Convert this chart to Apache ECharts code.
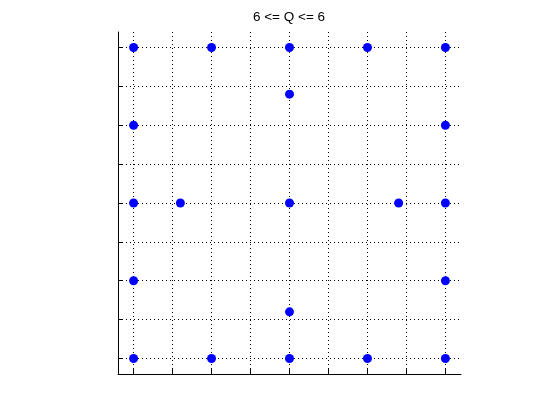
<!DOCTYPE html>
<html>
<head>
<meta charset="utf-8">
<script src="https://cdn.jsdelivr.net/npm/echarts@6/dist/echarts.min.js"></script>
<style>html,body{margin:0;padding:0;background:#fff;}#c{width:560px;height:420px;}</style>
</head>
<body>
<div id="c"></div>
<script>
var titleText = '6 <= Q <= 6';
var xValues = [-1, -0.5, 0, 0.5, 1, 0, -1, 1, -1, -0.7, 0, 0.7, 1, -1, 1, 0, -1, -0.5, 0, 0.5, 1];
var yValues = [1, 1, 1, 1, 1, 0.7, 0.5, 0.5, 0, 0, 0, 0, 0, -0.5, -0.5, -0.7, -1, -1, -1, -1, -1];
var tickValues = [-1, -0.75, -0.5, -0.25, 0, 0.25, 0.5, 0.75, 1];
var axisMin = -1.1, axisMax = 1.1;

var points = xValues.map(function (x, i) { return [x, yValues[i]]; });
var chart = echarts.init(document.getElementById('c'));
function axis() {
  return {
    type: 'value', min: axisMin, max: axisMax,
    axisLine: { show: true, onZero: false, lineStyle: { color: '#000', width: 1 } },
    axisTick: { show: true, inside: true, length: 5, customValues: tickValues, lineStyle: { color: '#000' } },
    axisLabel: { show: false, customValues: tickValues },
    splitLine: { show: true, lineStyle: { color: '#000', type: [1, 3], width: 1 } }
  };
}
chart.setOption({
  animation: false,
  backgroundColor: '#fff',
  graphic: [{
    type: 'text',
    style: { text: titleText, x: 289, y: 17.5, align: 'center', verticalAlign: 'middle', fill: '#000', font: '13.5px "Liberation Sans", Arial, sans-serif' }
  }],
  grid: { left: 118, right: 99, top: 32, bottom: 46, containLabel: false },
  xAxis: axis(),
  yAxis: axis(),
  series: [{
    type: 'scatter', data: points, symbol: 'circle', symbolSize: 9,
    itemStyle: { color: '#0000ff', opacity: 1 }
  }]
});
</script>
</body>
</html>
